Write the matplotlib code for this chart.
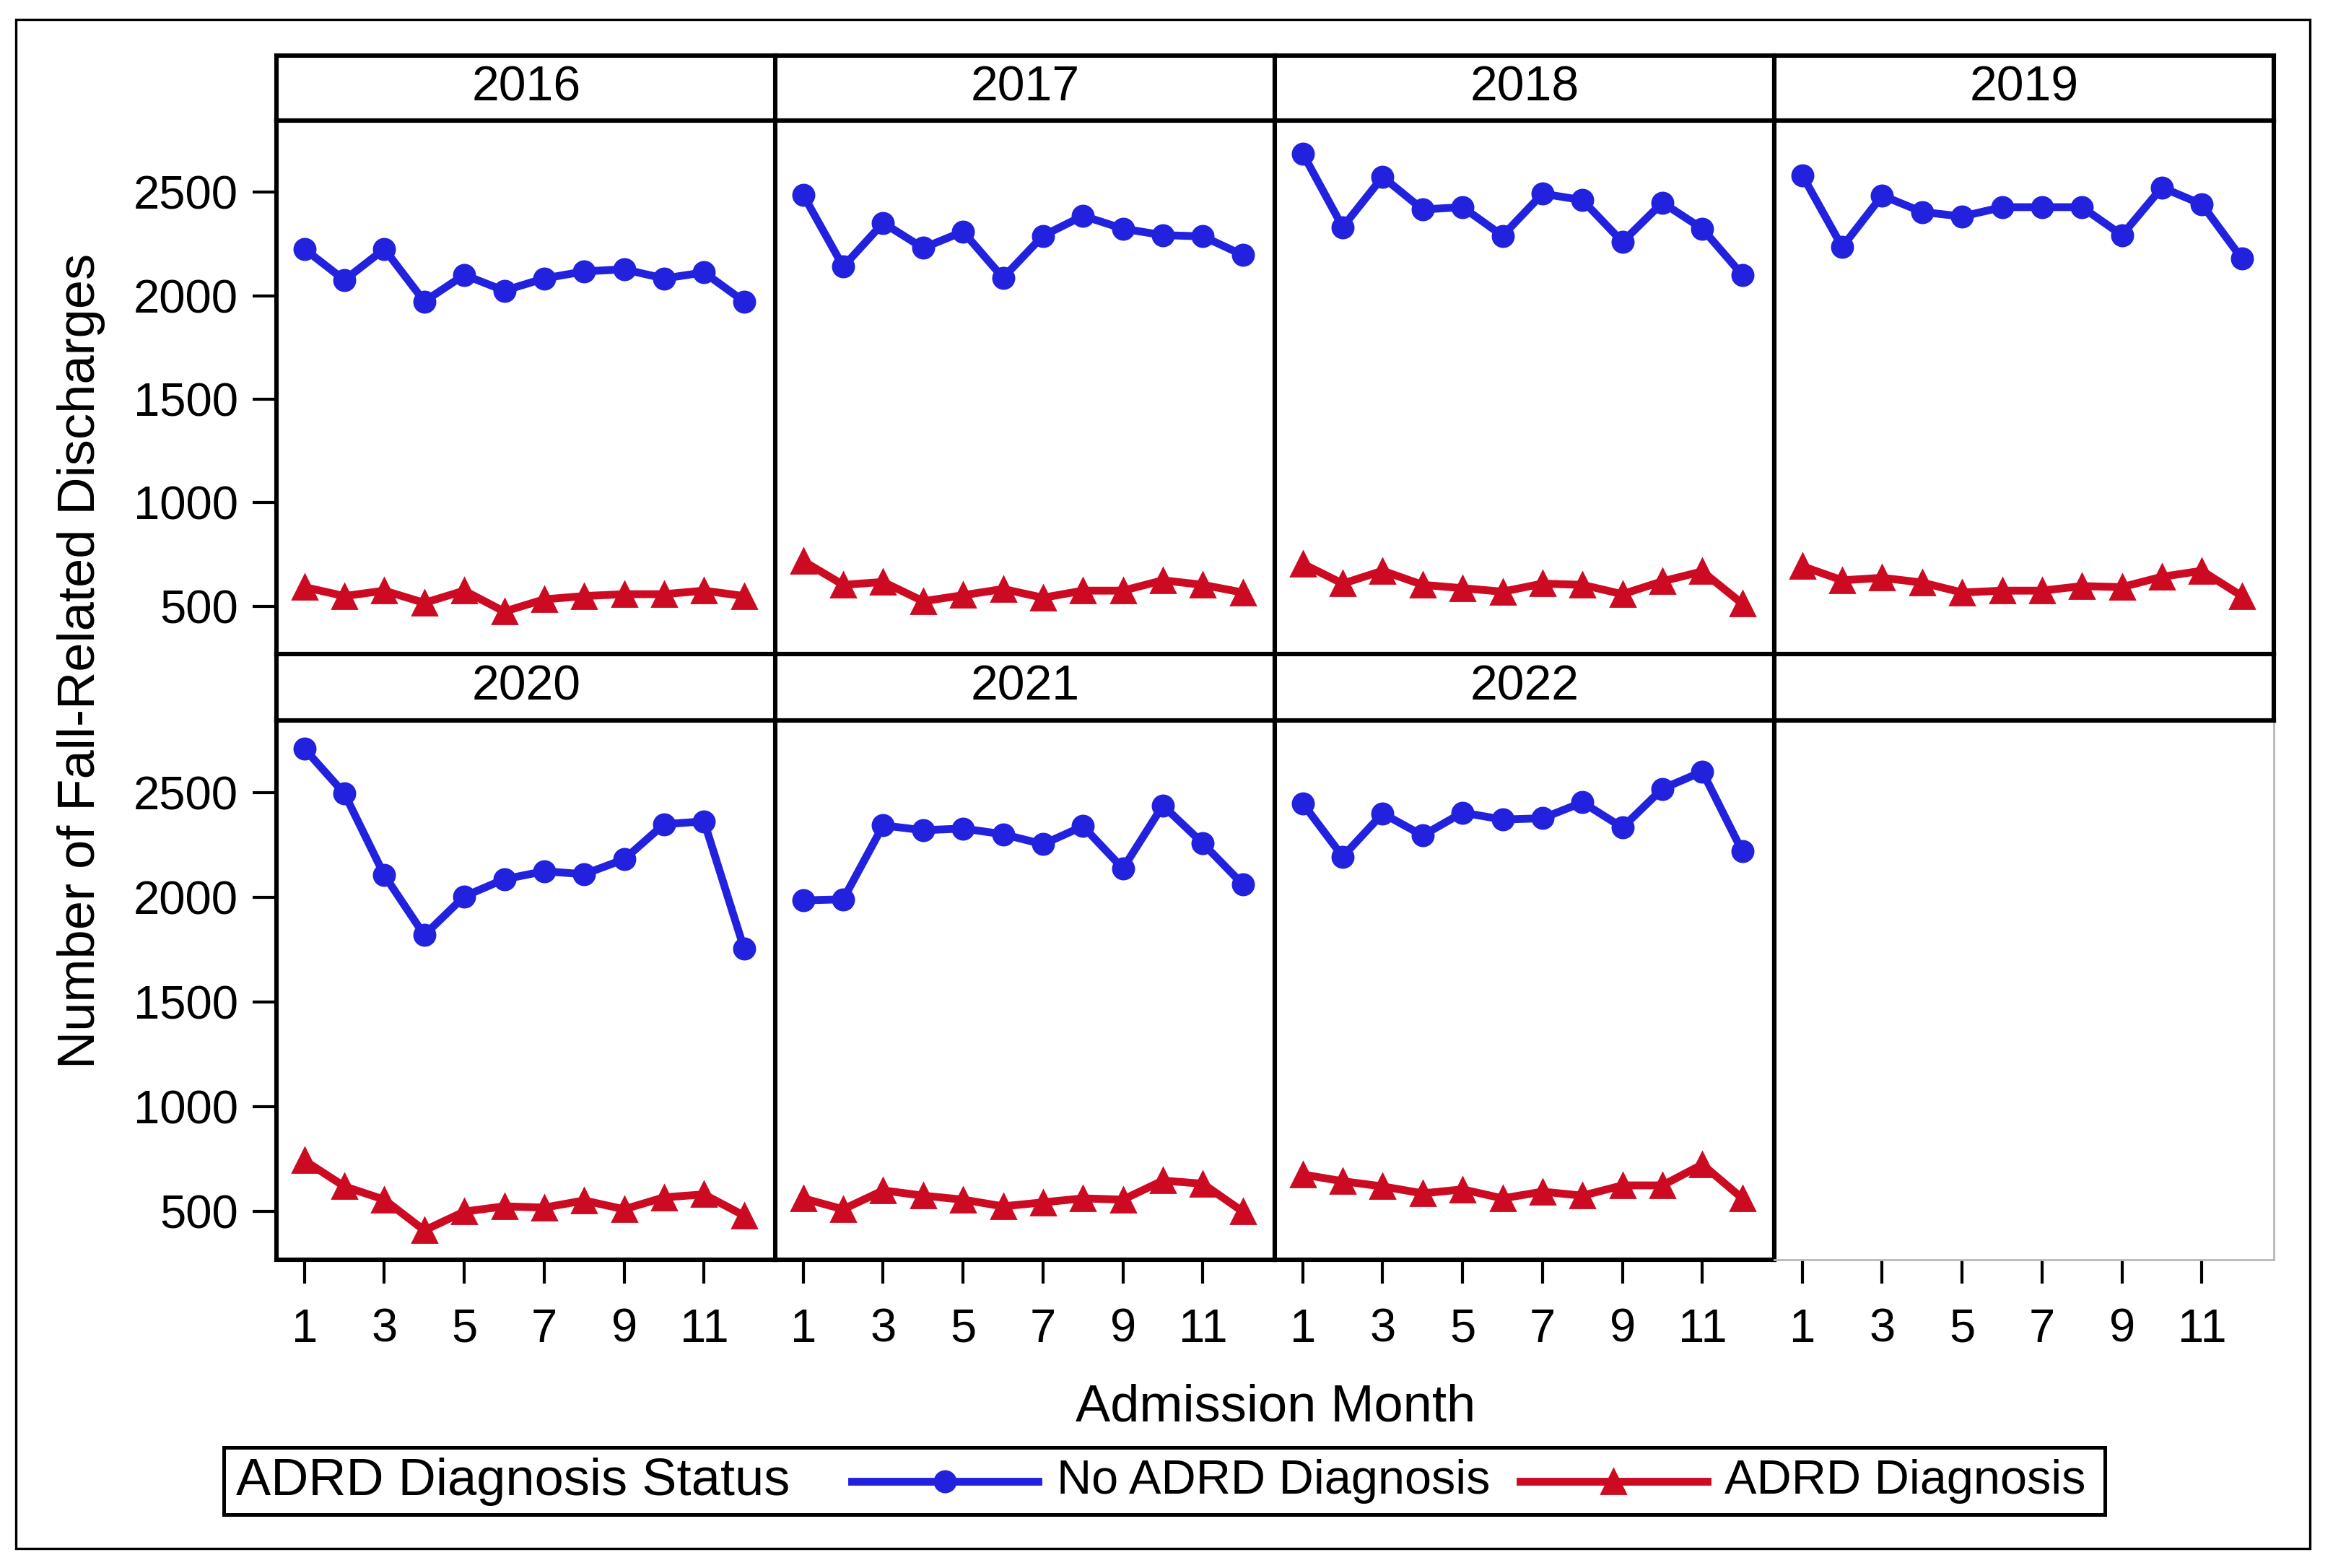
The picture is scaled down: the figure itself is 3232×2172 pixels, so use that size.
import matplotlib
matplotlib.use("Agg")
import matplotlib.pyplot as plt
from matplotlib.patches import Rectangle

plt.rcParams['font.family'] = ['Liberation Sans', 'DejaVu Sans']

# data
months = list(range(1, 13))
years = [2016, 2017, 2018, 2019, 2020, 2021, 2022]

no_adrd_2016 = [2225, 2075, 2225, 1972, 2100, 2024, 2083, 2117, 2127, 2083, 2112, 1972]
no_adrd_2017 = [2486, 2140, 2351, 2230, 2309, 2086, 2289, 2385, 2323, 2292, 2286, 2196]
no_adrd_2018 = [2686, 2331, 2573, 2416, 2427, 2289, 2492, 2461, 2259, 2449, 2323, 2100]
no_adrd_2019 = [2581, 2235, 2483, 2404, 2382, 2427, 2427, 2427, 2292, 2522, 2441, 2179]
no_adrd_2020 = [2710, 2496, 2106, 1820, 2005, 2087, 2125, 2111, 2182, 2350, 2363, 1757]
no_adrd_2021 = [1986, 1991, 2344, 2321, 2329, 2302, 2254, 2340, 2138, 2439, 2258, 2062]
no_adrd_2022 = [2449, 2195, 2401, 2296, 2405, 2372, 2378, 2454, 2334, 2519, 2601, 2220]

adrd_2016 = [593, 550, 576, 517, 576, 475, 534, 550, 559, 559, 576, 550]
adrd_2017 = [719, 604, 618, 525, 554, 584, 542, 576, 576, 626, 604, 567]
adrd_2018 = [706, 610, 672, 604, 588, 571, 610, 604, 559, 621, 669, 513]
adrd_2019 = [694, 626, 638, 615, 567, 576, 576, 598, 593, 643, 672, 550]
adrd_2020 = [744, 620, 557, 410, 500, 525, 519, 553, 511, 568, 582, 481]
adrd_2021 = [563, 511, 601, 576, 557, 525, 544, 563, 557, 648, 633, 500]
adrd_2022 = [677, 645, 620, 587, 606, 563, 595, 576, 625, 625, 725, 563]

no_adrd = [no_adrd_2016, no_adrd_2017, no_adrd_2018, no_adrd_2019,
           no_adrd_2020, no_adrd_2021, no_adrd_2022]
adrd = [adrd_2016, adrd_2017, adrd_2018, adrd_2019,
        adrd_2020, adrd_2021, adrd_2022]

BLUE = '#2222DE'
RED = '#CC0A22'

W, H = 3232, 2172
fig = plt.figure(figsize=(W / 200, H / 200), dpi=200)


def rect(x0, y0, x1, y1):
    # pixel box (top-left origin) -> figure fraction
    return [x0 / W, 1 - y1 / H, (x1 - x0) / W, (y1 - y0) / H]


col_x = [383, 1074, 1766, 2458]
col_w = 692
rows = [(77, 167, 906), (906, 998, 1745)]
spine_lw = 2.2
tick_fs = 23.5
strip_fs = 24.5
label_fs = 26
entry_fs = 24
line_lw = 3.9
circle_ms = 10.5
tri_ms = 12.5

for k in range(8):
    r, c = divmod(k, 4)
    s_top, p_top, p_bot = rows[r]
    x0 = col_x[c]

    st = fig.add_axes(rect(x0, s_top, x0 + col_w, p_top))
    st.set_xticks([])
    st.set_yticks([])
    for sp in st.spines.values():
        sp.set_linewidth(spine_lw)

    ax = fig.add_axes(rect(x0, p_top, x0 + col_w, p_bot))
    if k < len(years):
        st.text(0.5, 0.5, str(years[k]), ha='center', va='center',
                fontsize=strip_fs, transform=st.transAxes)
        ax.plot(months, no_adrd[k], color=BLUE, lw=line_lw, marker='o',
                ms=circle_ms, zorder=3)
        ax.plot(months, adrd[k], color=RED, lw=line_lw, marker='^',
                ms=tri_ms, zorder=3)
        for sp in ax.spines.values():
            sp.set_linewidth(spine_lw)
    else:
        for name, sp in ax.spines.items():
            sp.set_linewidth(spine_lw)
            if name in ('right', 'bottom'):
                sp.set_color('#B8B8B8')
                sp.set_linewidth(1.0)

    ax.set_xlim(0.3, 12.8)
    ax.set_ylim(270, 2845)
    ax.set_xticks([1, 3, 5, 7, 9, 11])
    ax.set_yticks([500, 1000, 1500, 2000, 2500])
    ax.tick_params(direction='out', length=12, width=1.5, labelsize=tick_fs,
                   pad=7, color='black')
    ax.tick_params(axis='x', pad=12)
    if c != 0:
        ax.tick_params(axis='y', left=False, labelleft=False)
    if r == 0:
        ax.tick_params(axis='x', bottom=False, labelbottom=False)

fig.text(113 / W, 1 - 915 / H, 'Number of Fall-Related Discharges',
         rotation=90, ha='center', va='center', fontsize=label_fs)
fig.text(1767 / W, 1 - 1950 / H, 'Admission Month',
         ha='center', va='center', fontsize=label_fs)

# legend box with the title inline on the left
lg = fig.add_axes(rect(310, 2005, 2916, 2098))
lg.set_xlim(0, 2606)
lg.set_ylim(0, 93)
lg.set_xticks([])
lg.set_yticks([])
for sp in lg.spines.values():
    sp.set_linewidth(1.8)
lg.text(17, 46, 'ADRD Diagnosis Status', ha='left', va='center',
        fontsize=label_fs)
lg.plot([870, 1128], [46, 46], color=BLUE, lw=line_lw)
lg.plot([999], [46], color=BLUE, marker='o', ms=circle_ms)
lg.text(1154, 46, 'No ADRD Diagnosis', ha='left', va='center',
        fontsize=entry_fs)
lg.plot([1796, 2055], [46, 46], color=RED, lw=line_lw)
lg.plot([1925], [46], color=RED, marker='^', ms=tri_ms)
lg.text(2079, 46, 'ADRD Diagnosis', ha='left', va='center',
        fontsize=entry_fs)

fig.add_artist(Rectangle((22 / W, 1 - 2145 / H), (3200 - 22) / W,
                         (2145 - 27) / H, transform=fig.transFigure,
                         fill=False, lw=1.2, ec='black'))

fig.savefig('out.png', dpi=200, facecolor='white')
